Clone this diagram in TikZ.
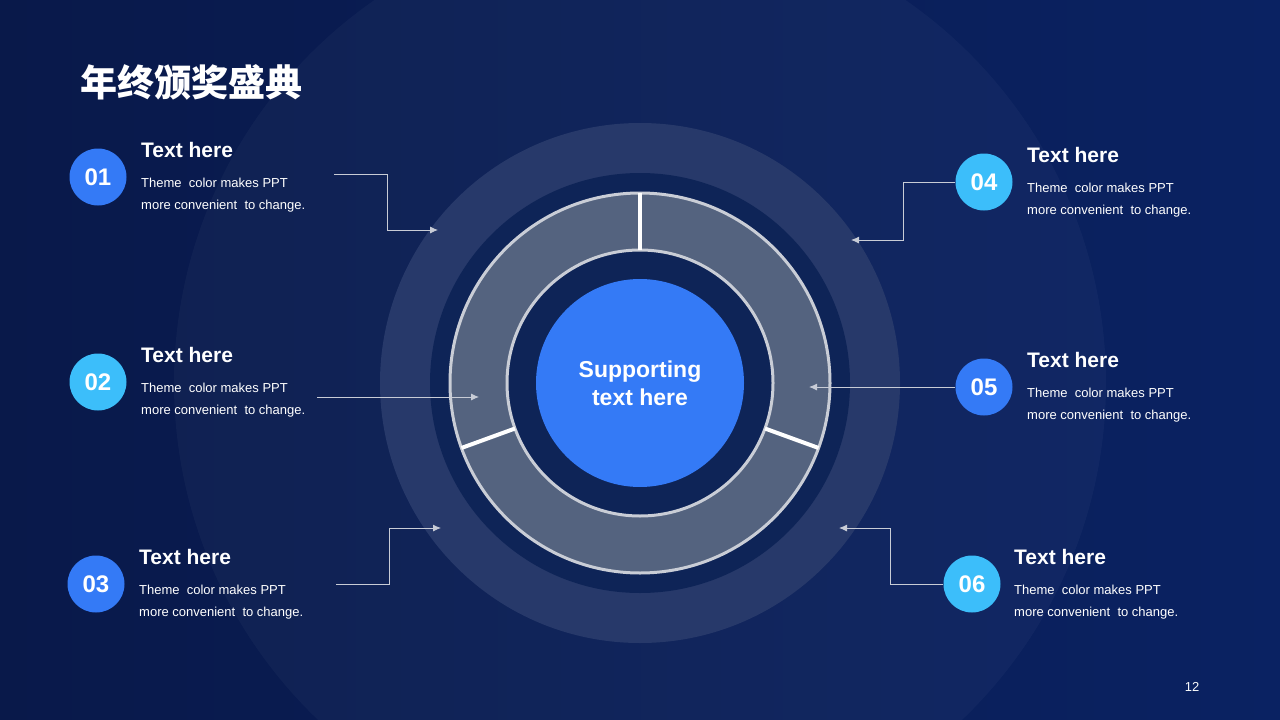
\documentclass[tikz,border=0pt]{standalone}
\usepackage{fontspec}
\setmainfont{Liberation Sans}
\newfontfamily\cjk{Noto Sans CJK SC}
\usetikzlibrary{arrows.meta, positioning}

\definecolor{bgleft}{HTML}{09194A}
\definecolor{bgright}{HTML}{0A2262}
\definecolor{halo}{HTML}{27396A}
\definecolor{deep}{HTML}{0E2457}
\definecolor{ringfill}{HTML}{54637F}
\definecolor{ringline}{HTML}{C9CDD6}
\definecolor{blueA}{HTML}{347AF6}
\definecolor{blueB}{HTML}{3CBEFA}
\definecolor{linegrey}{HTML}{C8CCD6}

\tikzstyle{num} = [circle, minimum size=57pt, inner sep=0pt, text=white, font=\fontsize{24}{24}\selectfont\bfseries]
\tikzstyle{head} = [anchor=west, inner sep=0pt, text=white, font=\fontsize{21}{25}\selectfont\bfseries]
\tikzstyle{body} = [inner sep=0pt, text=white, align=left, font=\fontsize{13}{22}\selectfont]
\tikzstyle{arrow} = [draw=linegrey, line width=0.9pt, -{Latex[length=8pt,width=7pt]}]
\tikzstyle{divider} = [draw=white, line width=4pt]

\begin{document}
\begin{tikzpicture}[x=1pt, y=-1pt]
\useasboundingbox (0,0) rectangle (1280,720);
\fill[left color=bgleft, right color=bgright] (0,0) rectangle (1280,720);

% rings in the middle
\coordinate (c) at (640,383);
\begin{scope}
\clip (0,0) rectangle (1280,720);
\fill[white, opacity=0.03] (c) circle (466);
\end{scope}
\fill[halo] (c) circle (260);
\fill[deep] (c) circle (210);
\fill[ringfill, even odd rule] (c) circle (190) (c) circle (133);
\draw[ringline, line width=3pt] (c) circle (190);
\draw[ringline, line width=3pt] (c) circle (133);
\foreach \a in {-90, 20, 160}
  \draw[divider] (c) ++(\a:133) -- ++(\a:57);
\node (core) [circle, fill=blueA, minimum size=208pt, inner sep=0pt, text=white, align=center,
  font=\fontsize{23}{28}\selectfont\bfseries] at (c) {Supporting\\text here};

% title and page number
\node (title) [anchor=west, inner sep=0pt, text=white, font=\cjk\bfseries\fontsize{37}{40}\selectfont] at (80,82) {年终颁奖盛典};
\node (page) [inner sep=0pt, text=white!90!linegrey, font=\fontsize{13}{13}\selectfont] at (1192,687) {12};

% left items
\node (n1) [num, fill=blueA] at (98,177) {01};
\node (h1) [head] at (141,150) {Text here};
\node (b1) [body, below=28pt of h1.west, anchor=north west] {Theme~ color makes PPT\\more convenient~ to change.};

\node (n2) [num, fill=blueB] at (98,382) {02};
\node (h2) [head] at (141,355) {Text here};
\node (b2) [body, below=28pt of h2.west, anchor=north west] {Theme~ color makes PPT\\more convenient~ to change.};

\node (n3) [num, fill=blueA] at (96,584) {03};
\node (h3) [head] at (139,557) {Text here};
\node (b3) [body, below=28pt of h3.west, anchor=north west] {Theme~ color makes PPT\\more convenient~ to change.};

% right items
\node (n4) [num, fill=blueB] at (984,182) {04};
\node (h4) [head] at (1027,155) {Text here};
\node (b4) [body, below=28pt of h4.west, anchor=north west] {Theme~ color makes PPT\\more convenient~ to change.};

\node (n5) [num, fill=blueA] at (984,387) {05};
\node (h5) [head] at (1027,360) {Text here};
\node (b5) [body, below=28pt of h5.west, anchor=north west] {Theme~ color makes PPT\\more convenient~ to change.};

\node (n6) [num, fill=blueB] at (972,584) {06};
\node (h6) [head] at (1014,557) {Text here};
\node (b6) [body, below=28pt of h6.west, anchor=north west] {Theme~ color makes PPT\\more convenient~ to change.};

% connectors
\coordinate (a1s) at (334,174);
\coordinate (a1e) at (438,230);
\coordinate (a2s) at (317,397);
\coordinate (a2e) at (479,397);
\coordinate (a3s) at (336,584);
\coordinate (a3e) at (441,528);
\coordinate (a4e) at (851,240);
\coordinate (a5e) at (809,387);
\coordinate (a6e) at (839,528);

\draw [arrow] (a1s) -- ++(53,0) |- (a1e);
\draw [arrow] (a2s) -- (a2e);
\draw [arrow] (a3s) -- ++(53,0) |- (a3e);
\draw [arrow] (n4.west) -- ++(-52,0) |- (a4e);
\draw [arrow] (n5.west) -- (a5e);
\draw [arrow] (n6.west) -- ++(-53,0) |- (a6e);
\end{tikzpicture}
\end{document}
